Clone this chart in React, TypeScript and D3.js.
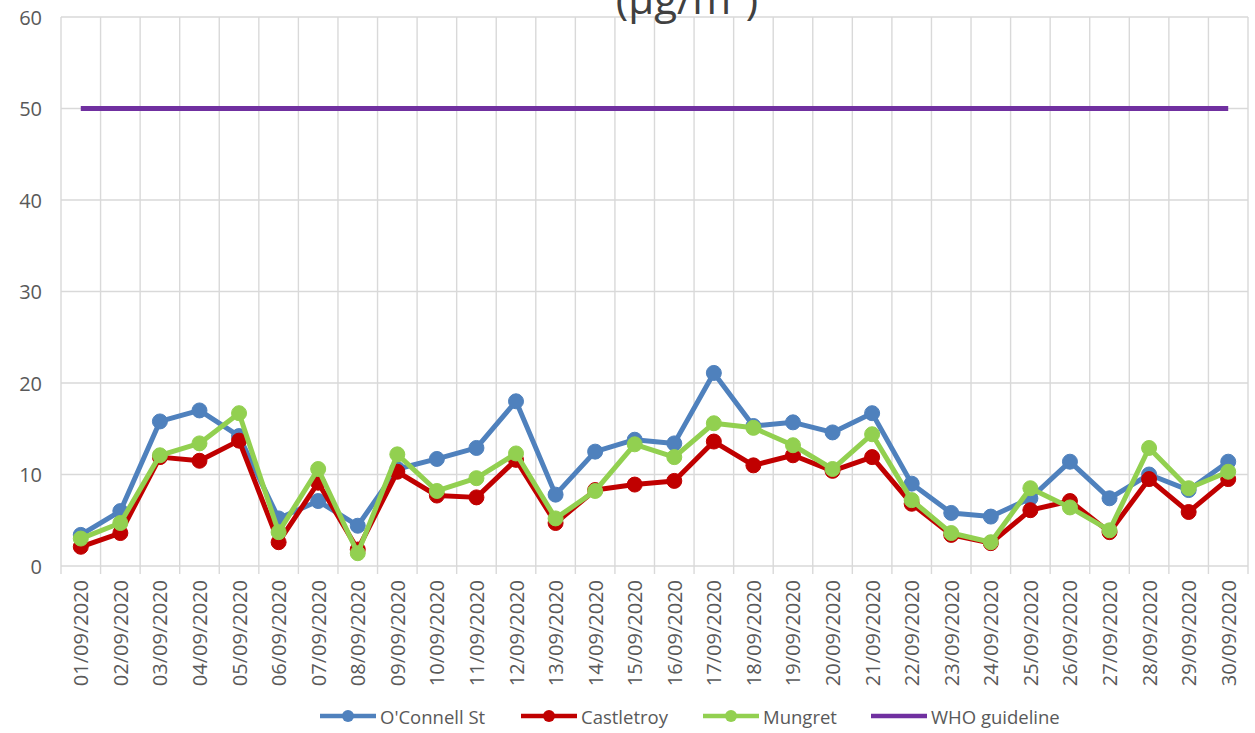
import { useEffect, useRef } from "react";
import * as d3 from "d3";

const dates = [
  "01/09/2020", "02/09/2020", "03/09/2020", "04/09/2020", "05/09/2020",
  "06/09/2020", "07/09/2020", "08/09/2020", "09/09/2020", "10/09/2020",
  "11/09/2020", "12/09/2020", "13/09/2020", "14/09/2020", "15/09/2020",
  "16/09/2020", "17/09/2020", "18/09/2020", "19/09/2020", "20/09/2020",
  "21/09/2020", "22/09/2020", "23/09/2020", "24/09/2020", "25/09/2020",
  "26/09/2020", "27/09/2020", "28/09/2020", "29/09/2020", "30/09/2020",
];

const oconnell = [
  3.4, 6.0, 15.8, 17.0, 14.2, 5.2, 7.1, 4.4, 10.6, 11.7,
  12.9, 18.0, 7.8, 12.5, 13.8, 13.4, 21.1, 15.3, 15.7, 14.6,
  16.7, 9.0, 5.8, 5.4, 7.4, 11.4, 7.4, 10.0, 8.3, 11.4,
];
const castletroy = [
  2.1, 3.6, 11.9, 11.5, 13.7, 2.6, 9.1, 1.8, 10.3, 7.7,
  7.5, 11.6, 4.7, 8.3, 8.9, 9.3, 13.6, 11.0, 12.1, 10.4,
  11.9, 6.8, 3.4, 2.5, 6.1, 7.1, 3.7, 9.5, 5.9, 9.5,
];
const mungret = [
  3.0, 4.7, 12.1, 13.4, 16.7, 3.7, 10.6, 1.4, 12.2, 8.2,
  9.6, 12.3, 5.2, 8.2, 13.3, 11.9, 15.6, 15.1, 13.2, 10.6,
  14.4, 7.2, 3.6, 2.6, 8.5, 6.4, 3.9, 12.9, 8.5, 10.3,
];
const who = dates.map(() => 50);

const yTicks = [0, 10, 20, 30, 40, 50, 60];

const series = [
  { name: "O'Connell St", values: oconnell, color: "#4F81BD", marker: true },
  { name: "Castletroy", values: castletroy, color: "#C00000", marker: true },
  { name: "Mungret", values: mungret, color: "#92D050", marker: true },
  { name: "WHO guideline", values: who, color: "#7030A0", marker: false },
];

const W = 1255;
const H = 733;
const M = { top: 17, right: 7, bottom: 167, left: 61 };
const FONT = "'Open Sans', sans-serif";

export default function App() {
  const ref = useRef<SVGSVGElement>(null);

  useEffect(() => {
    document.body.style.margin = "0";
    const svg = d3.select(ref.current);
    svg.selectAll("*").remove();

    const x = d3
      .scaleBand<string>()
      .domain(dates)
      .range([M.left, W - M.right]);
    const y = d3
      .scaleLinear()
      .domain([0, 60])
      .range([H - M.bottom, M.top]);

    const grid = svg.append("g");
    // horizontal grid
    grid
      .selectAll("line.h")
      .data(yTicks)
      .join("line")
      .attr("x1", M.left)
      .attr("x2", W - M.right)
      .attr("y1", (d) => y(d))
      .attr("y2", (d) => y(d))
      .attr("stroke", "#D9D9D9")
      .attr("stroke-width", 1.4);

    // vertical grid at band boundaries, extending down as tick marks
    const bounds = [...dates.map((d) => x(d)!), W - M.right];
    grid
      .selectAll("line.v")
      .data(bounds)
      .join("line")
      .attr("x1", (d) => d)
      .attr("x2", (d) => d)
      .attr("y1", y(60))
      .attr("y2", y(0) + 8)
      .attr("stroke", "#D9D9D9")
      .attr("stroke-width", 1.4);

    // y labels
    svg
      .append("g")
      .selectAll("text")
      .data(yTicks)
      .join("text")
      .attr("x", 42)
      .attr("y", (d) => y(d))
      .attr("text-anchor", "end")
      .attr("dominant-baseline", "central")
      .attr("font-family", FONT)
      .attr("font-size", 20)
      .attr("fill", "#595959")
      .text((d) => d);

    // x labels
    svg
      .append("g")
      .selectAll("text")
      .data(dates)
      .join("text")
      .attr(
        "transform",
        (d) => `translate(${x(d)! + x.bandwidth() / 2},${y(0) + 14}) rotate(-90)`
      )
      .attr("text-anchor", "end")
      .attr("dominant-baseline", "central")
      .attr("font-family", FONT)
      .attr("font-size", 20)
      .attr("fill", "#595959")
      .text((d) => d);

    const cx = (i: number) => x(dates[i])! + x.bandwidth() / 2;
    const line = d3
      .line<number>()
      .x((_, i) => cx(i))
      .y((d) => y(d));

    const order = [3, 0, 1, 2];
    order.forEach((si) => {
      const s = series[si];
      const g = svg.append("g");
      g.append("path")
        .attr("d", line(s.values))
        .attr("fill", "none")
        .attr("stroke", s.color)
        .attr("stroke-width", 5)
        .attr("stroke-linejoin", "round");
      if (s.marker) {
        g.selectAll("circle")
          .data(s.values)
          .join("circle")
          .attr("cx", (_, i) => cx(i))
          .attr("cy", (d) => y(d))
          .attr("r", 7.5)
          .attr("fill", s.color)
          .attr("stroke", s.color)
          .attr("stroke-width", 1);
      }
    });

    // title (clipped at top, as in the source image)
    svg
      .append("text")
      .attr("x", 687)
      .attr("y", 14)
      .attr("text-anchor", "middle")
      .attr("font-family", FONT)
      .attr("font-size", 42)
      .attr("fill", "#404040")
      .text("(µg/m³)");

    // legend
    const legendX = [320, 521, 703, 871];
    const ly = 716;
    const lg = svg.append("g");
    series.forEach((s, i) => {
      const g = lg.append("g").attr("transform", `translate(${legendX[i]},${ly})`);
      g.append("line")
        .attr("x1", 0)
        .attr("x2", 56)
        .attr("y1", 0)
        .attr("y2", 0)
        .attr("stroke", s.color)
        .attr("stroke-width", 4.5);
      if (s.marker) {
        g.append("circle")
          .attr("cx", 28)
          .attr("cy", 0)
          .attr("r", 6)
          .attr("fill", s.color);
      }
      g.append("text")
        .attr("x", 60)
        .attr("y", 0)
        .attr("dominant-baseline", "central")
        .attr("font-family", FONT)
        .attr("font-size", 18.5)
        .attr("fill", "#595959")
        .text(s.name);
    });
  }, []);

  return <svg ref={ref} width={W} height={H} style={{ display: "block" }} />;
}
